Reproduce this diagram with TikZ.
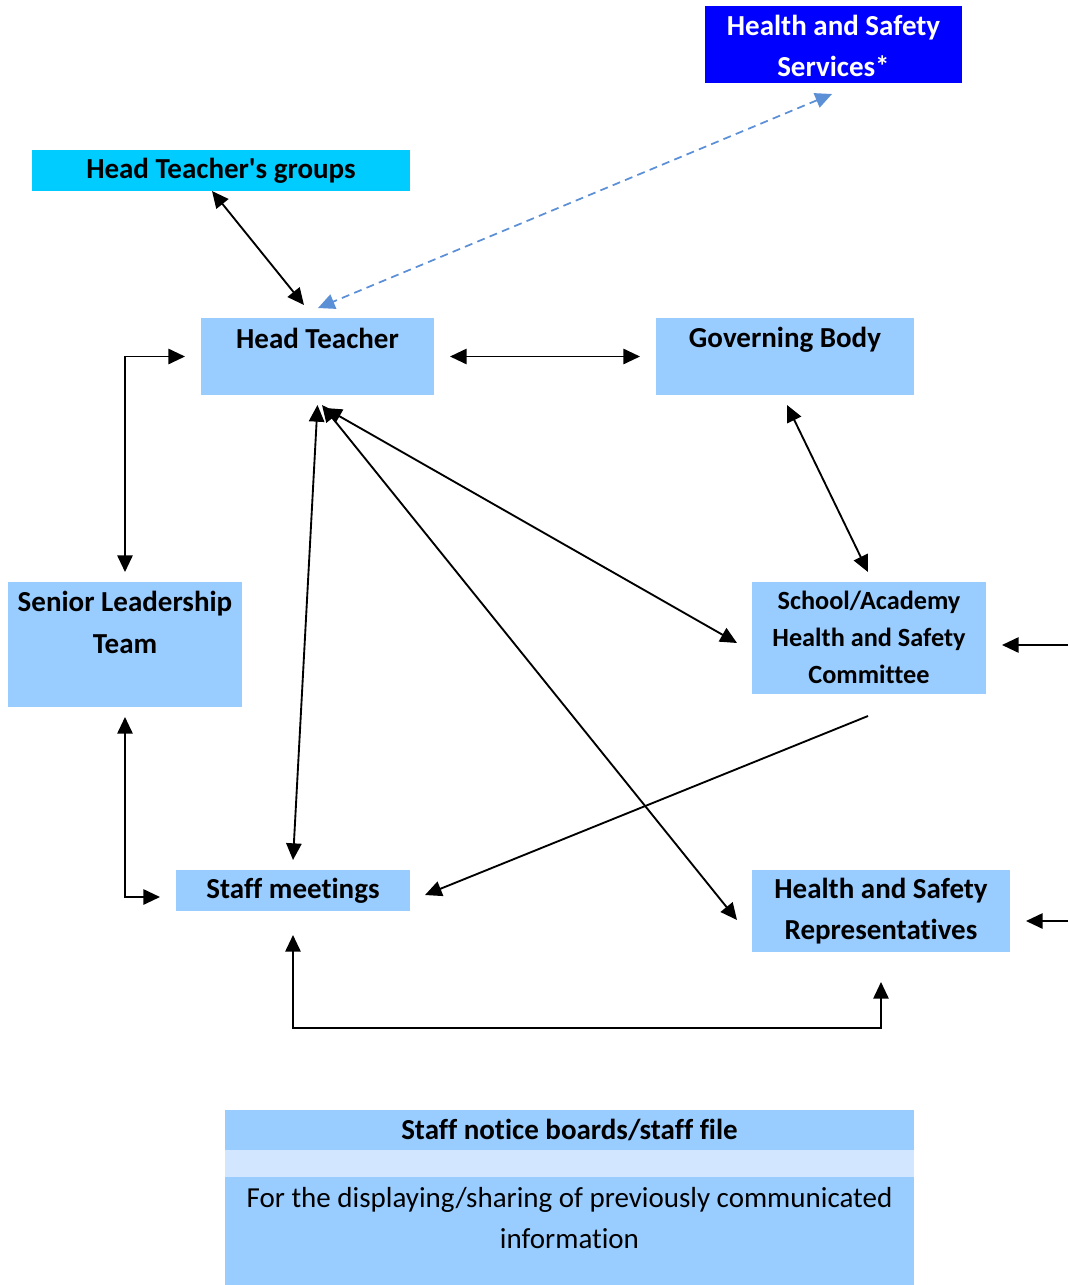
\documentclass[tikz,border=0pt]{standalone}
\usepackage{fontspec}
\setmainfont{Carlito}[Ligatures={NoCommon}]
\usetikzlibrary{arrows.meta,calc}
\definecolor{lb}{HTML}{99CCFF}
\definecolor{cy}{HTML}{00CCFF}
\definecolor{bl}{HTML}{0000FF}
\definecolor{pale}{HTML}{D2E6FF}
\definecolor{dash}{HTML}{5B8FD6}
\tikzset{
  box/.style={draw=none, fill=lb, inner sep=0pt, outer sep=0pt},
  big/.style={font=\fontsize{21.75pt}{30.75pt}\selectfont\bfseries, align=center, inner sep=0pt},
  mid/.style={font=\fontsize{19.7pt}{28pt}\selectfont\bfseries, align=center, inner sep=0pt},
  plain/.style={font=\fontsize{21.75pt}{30.75pt}\selectfont, align=center, inner sep=0pt},
  tip/.tip={Triangle[length=12.5pt,width=11.5pt]},
  bi/.style={tip-tip, line width=1.4pt},
  one/.style={-tip, line width=1.4pt},
  dashline/.style={tip-tip, line width=1.3pt, draw=dash, dash pattern=on 6pt off 4pt}
}
\begin{document}
\begin{tikzpicture}[x=0.75pt,y=-0.75pt]
\useasboundingbox (0,0) rectangle (1068,1285);
% boxes
\node[box, fill=bl, minimum width=257*0.75pt, minimum height=77*0.75pt] (hss) at (833.5,44.5) {};
\node[box, fill=cy, minimum width=378*0.75pt, minimum height=41*0.75pt] (htg) at (221,170.5) {};
\node[box, minimum width=233*0.75pt, minimum height=77*0.75pt] (ht) at (317.5,356.5) {};
\node[box, minimum width=258*0.75pt, minimum height=77*0.75pt] (gb) at (785,356.5) {};
\node[box, minimum width=234*0.75pt, minimum height=125*0.75pt] (slt) at (125,644.5) {};
\node[box, minimum width=234*0.75pt, minimum height=112*0.75pt] (com) at (869,638) {};
\node[box, minimum width=234*0.75pt, minimum height=41*0.75pt] (sm) at (293,890.5) {};
\node[box, minimum width=258*0.75pt, minimum height=82*0.75pt] (rep) at (881,911) {};
\node[box, minimum width=689*0.75pt, minimum height=40*0.75pt] (nbh) at (569.5,1130) {};
\node[box, fill=pale, minimum width=689*0.75pt, minimum height=27*0.75pt] (nbg) at (569.5,1163.5) {};
\node[box, minimum width=689*0.75pt, minimum height=108*0.75pt] (nbb) at (569.5,1231) {};
% texts
\node[big, text=white] (hssT) at (833.5,45.5) {Health and Safety\\Services*};
\node[big] (htgT) at (221,171) {Head Teacher\textquotesingle s groups};
\node[big] (htT) at (317.5,338) {Head Teacher};
\node[big] (gbT) at (785,339.5) {Governing Body};
\node[big, font=\fontsize{21.75pt}{31.5pt}\selectfont\bfseries] (sltT) at (125,622) {Senior Leadership\\Team};
\node[mid] (comT) at (869,637.5) {School/Academy\\Health and Safety\\Committee};
\node[big] (smT) at (293,891) {Staff meetings};
\node[big] (repT) at (881,911) {Health and Safety\\Representatives};
\node[big] (nbhT) at (569.5,1130) {Staff notice boards/staff file};
\node[plain] (nbbT) at (569.5,1218.5) {For the displaying/sharing of previously communicated\\information};
% free ends
\coordinate (inR1) at (1068,645);
\coordinate (inR2) at (1068,921);
% connectors
\draw[bi] ($(htg.south west)+(180,0)$) -- ($(ht.north west)+(103,-13)$);
\draw[dashline] ($(hss.south)+(-1.5,11)$) -- ($(ht.north)+(0.5,-10)$);
\draw[bi] ($(ht.east)+(16,0)$) -- ($(gb.west)+(-16,0)$);
\draw[bi] ($(ht.west)+(-16,0)$) -| ($(slt.north)+(0,-10)$);
\draw[bi] ($(slt.south)+(0,10)$) |- ($(sm.west)+(-16,6.5)$);
\draw[bi] ($(ht.south)+(0,10)$) -- ($(sm.north)+(0,-10)$);
\draw[bi] ($(ht.south)+(4.5,10)$) -- ($(rep.west)+(-15,9)$);
\draw[bi] ($(ht.south)+(7.5,13)$) -- ($(com.west)+(-15,5)$);
\draw[bi] ($(gb.south)+(2,10)$) -- ($(com.north)+(-1,-10)$);
\draw[one] ($(com.south)+(-1,22)$) -- ($(sm.east)+(15,4.5)$);
\draw[bi] ($(sm.south)+(0,24)$) -- ++(0,93) -| ($(rep.south)+(0,30)$);
\draw[one] (inR1) -- ($(com.east)+(16,7)$);
\draw[one] (inR2) -- ($(rep.east)+(16,10)$);
\end{tikzpicture}
\end{document}
